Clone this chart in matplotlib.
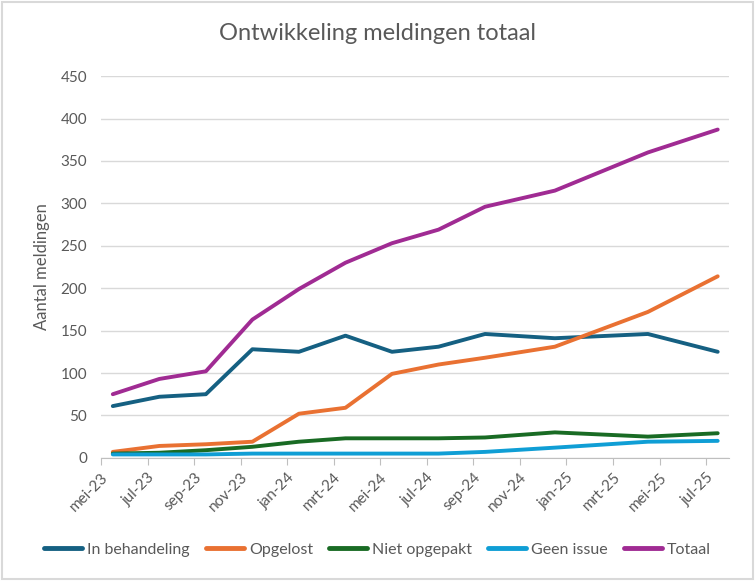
import matplotlib
matplotlib.use('Agg')
import matplotlib.pyplot as plt
from matplotlib.patches import Rectangle

plt.rcParams['font.family'] = ['Lato', 'DejaVu Sans']

# month index since mei-23 (0 = mei-23)
months = [0, 2, 4, 6, 8, 10, 12, 14, 16, 19, 23, 26]
tick_labels = ['mei-23', 'jul-23', 'sep-23', 'nov-23', 'jan-24', 'mrt-24', 'mei-24',
               'jul-24', 'sep-24', 'nov-24', 'jan-25', 'mrt-25', 'mei-25', 'jul-25']

in_behandeling = [61, 72, 75, 128, 125, 144, 125, 131, 146, 141, 146, 125]
opgelost = [7, 14, 16, 19, 52, 59, 99, 110, 118, 131, 172, 214]
niet_opgepakt = [5, 6, 9, 13, 19, 23, 23, 23, 24, 30, 25, 29]
geen_issue = [4, 4, 4, 5, 5, 5, 5, 5, 7, 12, 19, 20]
totaal = [75, 93, 102, 163, 199, 230, 253, 269, 296, 315, 360, 387]

series = [
    ('In behandeling', in_behandeling, '#156082'),
    ('Opgelost', opgelost, '#E97132'),
    ('Niet opgepakt', niet_opgepakt, '#196B24'),
    ('Geen issue', geen_issue, '#0F9ED5'),
    ('Totaal', totaal, '#A02B93'),
]

grey = '#595959'

fig = plt.figure(figsize=(7.55, 5.81), dpi=100)
fig.patches.append(Rectangle((0.003, 0.003), 0.994, 0.994, transform=fig.transFigure,
                             fill=False, edgecolor='#D9D9D9', linewidth=1.5))
ax = fig.add_axes([0.134, 0.212, 0.832, 0.657])

x = [m + 0.5 for m in months]
for name, vals, color in series:
    ax.plot(x, vals, color=color, linewidth=2.8, label=name, solid_capstyle='round')

ax.set_xlim(0, 27)
ax.set_ylim(0, 450)
ax.set_yticks(range(0, 451, 50))
ax.set_xticks(range(0, 27, 2))
ax.set_xticklabels(tick_labels, rotation=45, ha='right', rotation_mode='anchor')
ax.tick_params(axis='x', length=5, color='#BFBFBF', labelsize=11, labelcolor=grey, pad=4)
ax.tick_params(axis='y', length=0, labelsize=11, labelcolor=grey, pad=10)
ax.grid(axis='y', color='#D9D9D9', linewidth=1)
ax.set_axisbelow(True)
for s in ['top', 'right', 'left']:
    ax.spines[s].set_visible(False)
ax.spines['bottom'].set_color('#BFBFBF')

ax.set_ylabel('Aantal meldingen', fontsize=12, color=grey, labelpad=8)
fig.text(0.5, 0.943, 'Ontwikkeling meldingen totaal', ha='center', va='center',
         fontsize=17, color=grey)

leg = fig.legend(loc='center', bbox_to_anchor=(0.5, 0.054), ncol=5, frameon=False,
                 fontsize=11.5, labelcolor=grey, handlelength=2.4, handletextpad=0.3,
                 columnspacing=1.0)
for h in leg.get_lines():
    h.set_linewidth(3.5)

fig.savefig('out.png', dpi=100)
